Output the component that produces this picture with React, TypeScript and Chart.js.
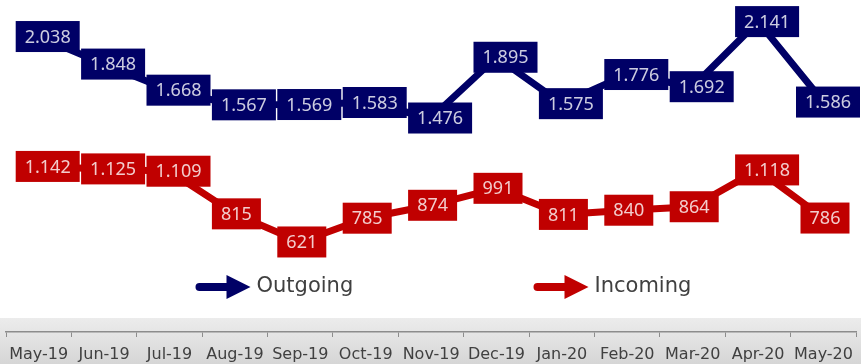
import { useEffect, useRef } from 'react';
import { Chart, registerables } from 'chart.js';

Chart.register(...registerables);

const months = ['May-19', 'Jun-19', 'Jul-19', 'Aug-19', 'Sep-19', 'Oct-19', 'Nov-19', 'Dec-19', 'Jan-20', 'Feb-20', 'Mar-20', 'Apr-20', 'May-20'];
const outgoing = [2038, 1848, 1668, 1567, 1569, 1583, 1476, 1895, 1575, 1776, 1692, 2141, 1586];
const incoming = [1142, 1125, 1109, 815, 621, 785, 874, 991, 811, 840, 864, 1118, 786];
const seriesNames = ['Outgoing', 'Incoming'];
const seriesColors = ['#000066', '#C00000'];

function fmt(v: number): string {
  if (v >= 1000) {
    return Math.floor(v / 1000) + '.' + String(v % 1000).padStart(3, '0');
  }
  return String(v);
}

const bandPlugin = {
  id: 'axisBand',
  beforeDraw(chart: any) {
    const { ctx, width, height } = chart;
    const top = chart.chartArea.bottom - 14;
    const g = ctx.createLinearGradient(0, top, 0, height);
    g.addColorStop(0, '#ececec');
    g.addColorStop(1, '#d6d6d6');
    ctx.save();
    ctx.fillStyle = g;
    ctx.fillRect(0, top, width, height - top);
    ctx.restore();
  },
};

const boxLabelPlugin = {
  id: 'boxLabels',
  afterDatasetsDraw(chart: any) {
    const ctx = chart.ctx;
    ctx.save();
    ctx.font = '18px "Noto Sans"';
    ctx.textAlign = 'center';
    ctx.textBaseline = 'middle';
    chart.data.datasets.forEach((ds: any, di: number) => {
      const meta = chart.getDatasetMeta(di);
      meta.data.forEach((pt: any, i: number) => {
        const text = fmt(ds.data[i]);
        const w = Math.round(ctx.measureText(text).width + 18);
        const h = 31;
        let left = pt.x - 23;
        if (left + w > chart.width - 1) left = chart.width - 1 - w;
        const top = pt.y - h / 2;
        ctx.fillStyle = ds.borderColor;
        ctx.fillRect(left, top, w, h);
        ctx.fillStyle = 'rgba(255,255,255,0.8)';
        ctx.fillText(text, left + w / 2, pt.y + 1);
      });
    });
    ctx.restore();
  },
};

const arrowLegendPlugin = {
  id: 'arrowLegend',
  afterDraw(chart: any) {
    const ctx = chart.ctx;
    const cx = chart.width / 2;
    const y = chart.chartArea.bottom - 45;
    const starts = [cx - 235, cx + 103];
    ctx.save();
    chart.data.datasets.forEach((ds: any, i: number) => {
      const x0 = starts[i];
      const color = ds.borderColor;
      ctx.strokeStyle = color;
      ctx.fillStyle = color;
      ctx.lineWidth = 8;
      ctx.lineCap = 'round';
      ctx.beginPath();
      ctx.moveTo(x0 + 4, y);
      ctx.lineTo(x0 + 33, y);
      ctx.stroke();
      ctx.beginPath();
      ctx.moveTo(x0 + 31, y - 12);
      ctx.lineTo(x0 + 55, y);
      ctx.lineTo(x0 + 31, y + 12);
      ctx.closePath();
      ctx.fill();
      ctx.fillStyle = '#404040';
      ctx.font = '21px "DejaVu Sans"';
      ctx.textAlign = 'left';
      ctx.textBaseline = 'middle';
      ctx.fillText(ds.label, x0 + 61, y);
    });
    ctx.restore();
  },
};

export default function App() {
  const canvasRef = useRef<HTMLCanvasElement | null>(null);

  useEffect(() => {
    if (!canvasRef.current) return;
    const chart = new Chart(canvasRef.current, {
      type: 'line',
      data: {
        labels: months,
        datasets: [
          {
            label: seriesNames[0],
            data: outgoing,
            borderColor: seriesColors[0],
            backgroundColor: seriesColors[0],
            borderWidth: 7,
            pointRadius: 0,
            tension: 0,
            borderJoinStyle: 'round',
          },
          {
            label: seriesNames[1],
            data: incoming,
            borderColor: seriesColors[1],
            backgroundColor: seriesColors[1],
            borderWidth: 7,
            pointRadius: 0,
            tension: 0,
            borderJoinStyle: 'round',
          },
        ],
      },
      options: {
        responsive: false,
        animation: false,
        layout: { padding: { left: 6, right: 1, top: 0, bottom: 0 } },
        plugins: {
          legend: { display: false },
          tooltip: { enabled: false },
        },
        scales: {
          x: {
            offset: true,
            grid: {
              offset: true,
              drawOnChartArea: false,
              drawTicks: true,
              tickLength: 5,
              color: '#8c8c8c',
            },
            border: { display: true, color: '#8c8c8c', width: 1.5 },
            ticks: {
              autoSkip: false,
              maxRotation: 0,
              padding: 8,
              color: '#404040',
              font: { family: 'DejaVu Sans', size: 16 },
            },
            afterFit: (scale: any) => {
              scale.height = 32;
            },
          },
          y: { display: false, min: 0, max: 2290 },
        },
      },
      plugins: [bandPlugin, boxLabelPlugin, arrowLegendPlugin],
    });
    return () => chart.destroy();
  }, []);

  return (
    <div style={{ position: 'fixed', left: 0, top: 0, width: 861, height: 364, background: '#ffffff' }}>
      <canvas ref={canvasRef} width={861} height={364} style={{ display: 'block' }} />
    </div>
  );
}
